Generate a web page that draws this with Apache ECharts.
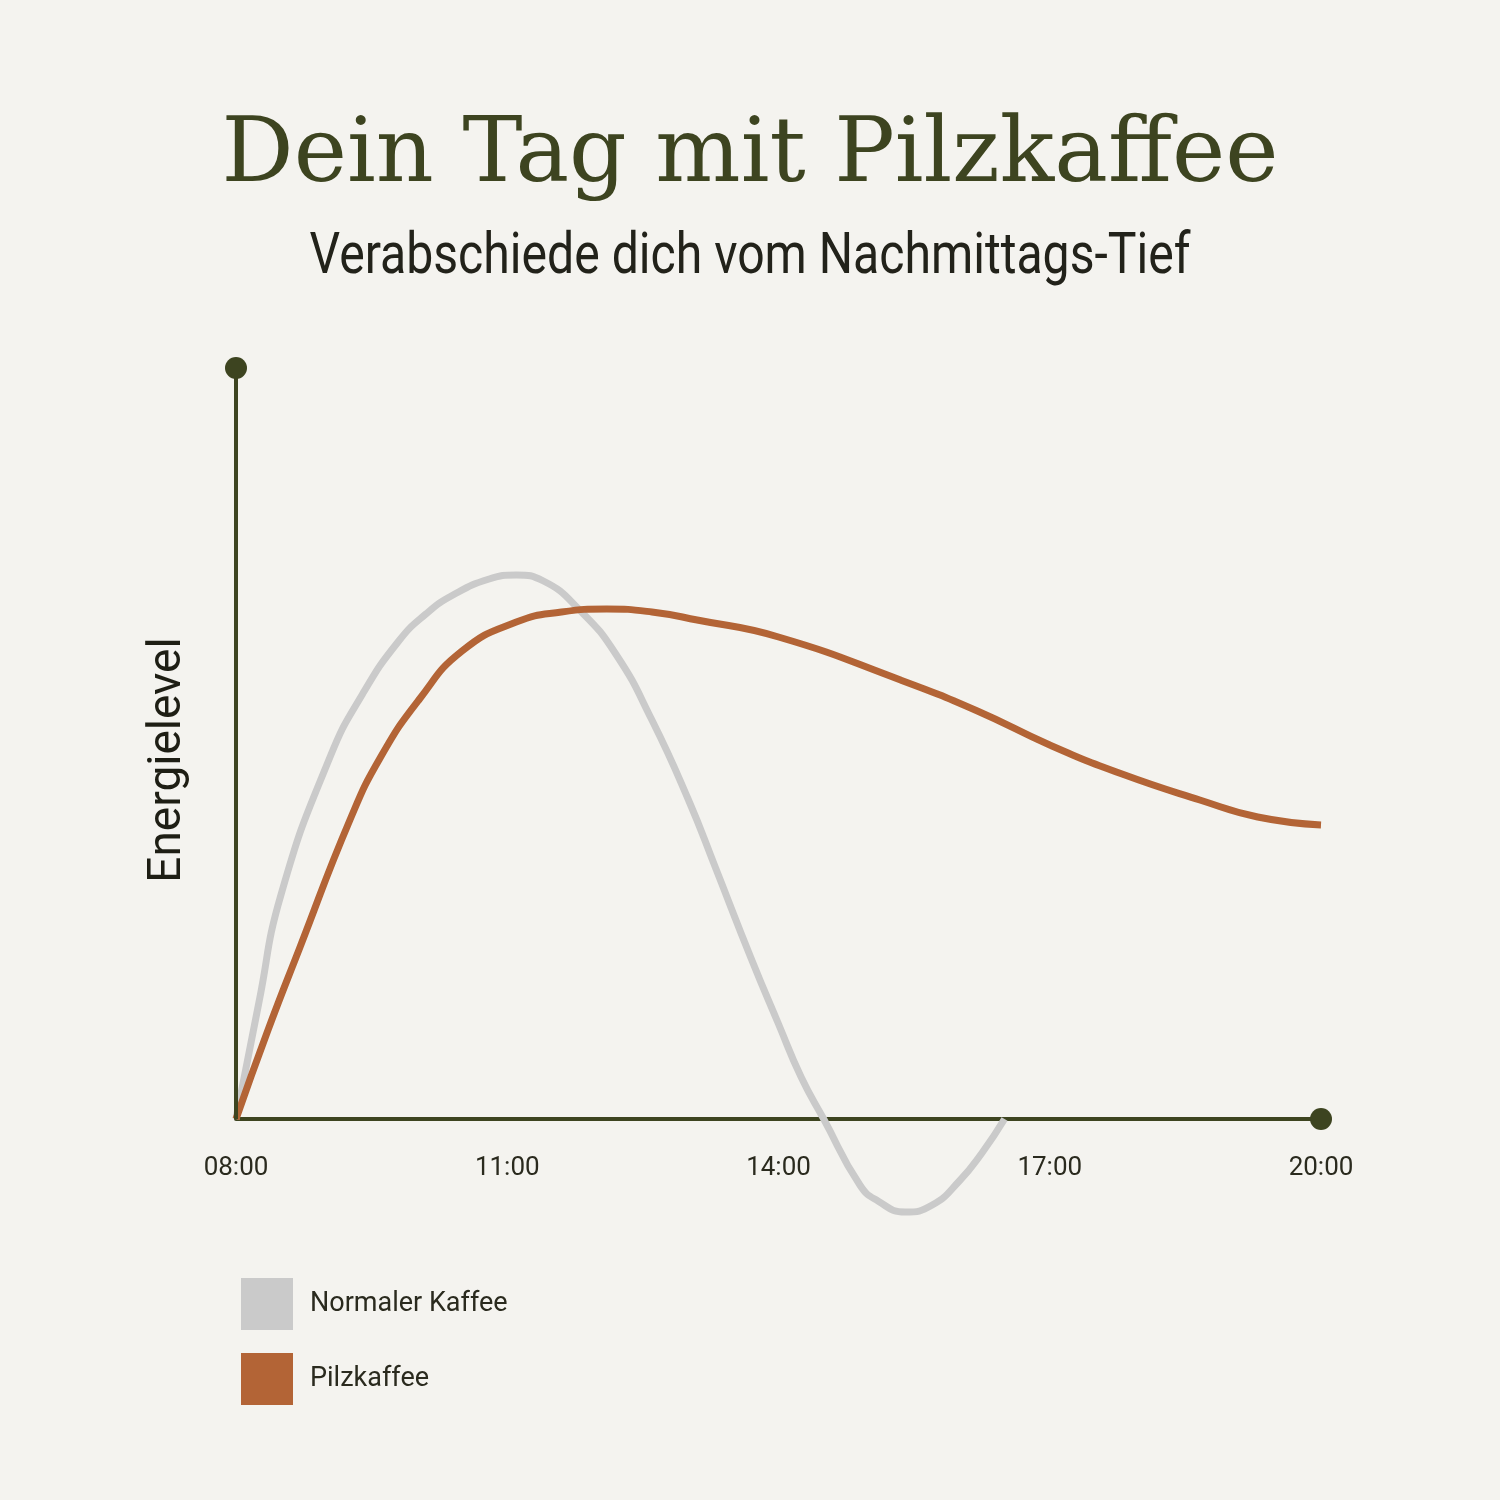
<!DOCTYPE html>
<html><head><meta charset="utf-8">
<script src="https://cdn.jsdelivr.net/npm/echarts@6/dist/echarts.min.js"></script>
<style>html,body{margin:0;background:#f4f3ef}#c{width:1500px;height:1500px}</style></head>
<body><div id="c"></div><script>
const hourTicks = [8, 11, 14, 17, 20];
const normal = [[8,0],[8.25,115],[8.5,225],[9.04,362],[9.4,425],[9.8,478],[10.1,505],[10.4,524],[10.8,540],[11.1,544],[11.4,538],[11.8,509],[12.2,465],[12.6,399],[13,320],[13.3,252],[13.7,160],[14,95],[14.25,42],[14.5,0],[14.9,-66],[15.1,-82],[15.4,-93],[15.7,-86],[16,-62],[16.25,-34],[16.5,0]];
const pilz = [[8,0],[8.35,88],[8.7,170],[9.26,299],[9.6,362],[10.03,420],[10.5,468],[11.1,497],[11.6,507],[12.1,510],[12.6,507],[13.1,499],[14,482],[15.35,439],[16.2,408],[17,374],[17.8,345],[18.66,319],[19.3,302],[20,294]];
const olive = '#3d4420';
const c = echarts.init(document.getElementById('c'));
c.setOption({
  backgroundColor:'#f4f3ef',
  animation:false,
  title:{text:'Dein Tag mit Pilzkaffee',left:'center',top:108,
    textStyle:{fontFamily:'DejaVu Serif',fontSize:90,fontWeight:'normal',color:olive}},
  grid:{left:236,right:179,top:368,bottom:381},
  legend:{orient:'vertical',left:236,top:1273,itemWidth:52,itemHeight:52,itemGap:23,icon:'rect',
    textStyle:{fontFamily:'Roboto',fontSize:27,color:'#2a2a1e',padding:[0,0,0,12]},
    data:['Normaler Kaffee','Pilzkaffee']},
  xAxis:{type:'value',min:8,max:20,interval:3,
    axisLine:{lineStyle:{color:olive,width:4}},axisTick:{show:false},splitLine:{show:false},
    axisLabel:{formatter:v=>String(v).padStart(2,'0')+':00',fontFamily:'Roboto',fontSize:26,color:'#2a2a1e',margin:36}},
  yAxis:{type:'value',min:0,max:751,show:false},
  graphic:[
    {type:'text',x:750,y:258,scaleX:0.83,style:{text:'Verabschiede dich vom Nachmittags-Tief',fontFamily:'Roboto',fontSize:58,fill:'#22221a',align:'center',verticalAlign:'middle'}},
    {type:'text',x:145,y:760,rotation:Math.PI/2,style:{text:'Energielevel',fontFamily:'Roboto',fontSize:46,fill:'#1e1e14',align:'center',verticalAlign:'top'}}],
  series:[
    {type:'line',silent:true,data:[[8,0],[8,751]],symbol:'none',lineStyle:{color:olive,width:4},z:5,
     markLine:{silent:true,symbol:'none',label:{show:false},lineStyle:{color:'#cfcfcb',width:2,type:'solid'},
       data:hourTicks.slice(1).map(h=>[{coord:[h,0]},{coord:[h,760]}])}},
    {name:'Normaler Kaffee',type:'line',smooth:true,clip:false,data:normal,symbol:'none',lineStyle:{color:'#cacaca',width:7},itemStyle:{color:'#cacaca'}},
    {name:'Pilzkaffee',type:'line',smooth:true,data:pilz,symbol:'none',lineStyle:{color:'#b36436',width:7},itemStyle:{color:'#b36436'},z:3},
    {type:'scatter',silent:true,data:[[8,751],[20,0]],symbolSize:22,itemStyle:{color:olive,opacity:1},z:6}
  ]
});
</script></body></html>
